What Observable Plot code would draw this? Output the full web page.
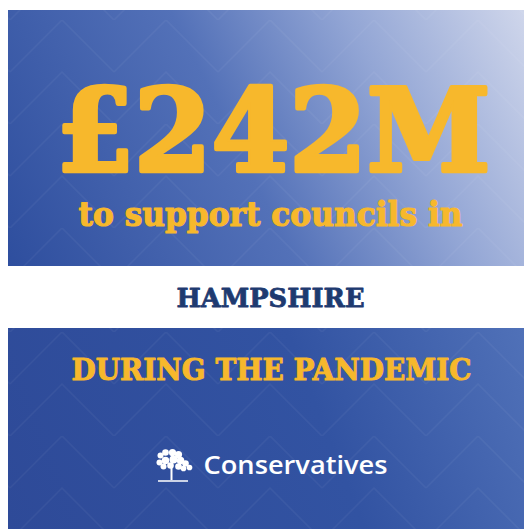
<!DOCTYPE html>
<html>
<head>
<meta charset="utf-8">
<script src="https://cdn.jsdelivr.net/npm/d3@7"></script>
<script src="https://cdn.jsdelivr.net/npm/@observablehq/plot@0.6"></script>
<style>
  html, body { margin: 0; padding: 0; background: #ffffff; }
  #chart svg { display: block; }
</style>
</head>
<body>
<div id="chart"></div>
<script>
// ---- content ----
const headline = ["£242M"];
const subline = ["to support councils in"];
const region = ["HAMPSHIRE"];
const period = ["DURING THE PANDEMIC"];
const party = ["Conservatives"];
// tree logo canopy blobs (relative offsets from canopy centre, px)
const treeBlobs = [
  {dx: -12, dy: -9, r: 4.5}, {dx: -7, dy: -12, r: 5.5}, {dx: 0, dy: -12, r: 6.5},
  {dx: 6, dy: -10, r: 6.5}, {dx: -13, dy: -2, r: 4.5}, {dx: -7, dy: -4, r: 7},
  {dx: 1, dy: -5, r: 8}, {dx: 8, dy: -4, r: 7}, {dx: 13, dy: -1, r: 5.5},
  {dx: 17, dy: 3, r: 4}, {dx: -9, dy: 2, r: 4.5}, {dx: -2, dy: 1, r: 5.5},
  {dx: 6, dy: 2, r: 5.5}, {dx: 11, dy: 4, r: 4}
];

const W = 524, H = 529;
const yellow = "#f7b82c";

const plot = Plot.plot({
  width: W, height: H,
  margin: 0,
  x: {domain: [0, W], range: [0, W], axis: null},
  y: {domain: [0, H], range: [0, H], axis: null},
  style: {background: "#ffffff", overflow: "visible"},
  marks: [
    Plot.rect([0], {x1: 8, x2: W, y1: 10, y2: 266, fill: "url(#gradTop)"}),
    Plot.rect([0], {x1: 8, x2: W, y1: 10, y2: 266, fill: "url(#scales)"}),
    Plot.rect([0], {x1: 8, x2: W, y1: 328, y2: H, fill: "url(#gradBot)"}),
    Plot.rect([0], {x1: 8, x2: W, y1: 328, y2: H, fill: "url(#scales)"}),
    Plot.text(headline, {x: 273, y: 170 - 0.32 * 114, text: d => d, fill: yellow,
      stroke: yellow, strokeWidth: 4.5, strokeLinejoin: "round",
      fontSize: 114, fontWeight: "bold", fontFamily: "DejaVu Serif", textAnchor: "middle", lineAnchor: "middle"}),
    Plot.text(subline, {x: 270, y: 225 - 0.32 * 33, text: d => d, fill: yellow,
      stroke: yellow, strokeWidth: 1.2, strokeLinejoin: "round",
      fontSize: 33, fontWeight: "bold", fontFamily: "DejaVu Serif", textAnchor: "middle", lineAnchor: "middle"}),
    Plot.text(region, {x: 270, y: 306 - 0.32 * 26, text: d => d, fill: "#1e3a70",
      stroke: "#1e3a70", strokeWidth: 0.8,
      fontSize: 26, fontWeight: "bold", fontFamily: "DejaVu Serif", textAnchor: "middle", lineAnchor: "middle"}),
    Plot.text(period, {x: 271, y: 379 - 0.32 * 29, text: d => d, fill: yellow,
      stroke: yellow, strokeWidth: 1,
      fontSize: 29, fontWeight: "bold", fontFamily: "DejaVu Serif", textAnchor: "middle", lineAnchor: "middle"}),
    Plot.text(party, {x: 295, y: 473 - 0.32 * 25, text: d => d, fill: "#ffffff",
      fontSize: 25, fontWeight: 600, fontFamily: "Open Sans", textAnchor: "middle", lineAnchor: "middle"}),
    Plot.dot(treeBlobs, {x: d => 172 + d.dx, y: d => 464 + d.dy, r: d => d.r, fill: "#ffffff", fillOpacity: 1, stroke: "none"}),
    Plot.ruleX([0], {x: 171, y1: 466, y2: 480, stroke: "#ffffff", strokeWidth: 2}),
    Plot.ruleY([0], {y: 480.5, x1: 158, x2: 188, stroke: "#ffffff", strokeWidth: 1.5})
  ]
});

// decorative defs: gradients and scale pattern
const svg = d3.select(plot);
const defs = svg.insert("defs", ":first-child");
const gt = defs.append("linearGradient").attr("id", "gradTop")
  .attr("gradientUnits", "userSpaceOnUse")
  .attr("x1", 8).attr("y1", 266).attr("x2", 524).attr("y2", 10);
gt.append("stop").attr("offset", "0%").attr("stop-color", "#2e4e9e");
gt.append("stop").attr("offset", "45%").attr("stop-color", "#5371b8");
gt.append("stop").attr("offset", "72%").attr("stop-color", "#93a6d5");
gt.append("stop").attr("offset", "100%").attr("stop-color", "#cfd6eb");
const gb = defs.append("linearGradient").attr("id", "gradBot")
  .attr("gradientUnits", "userSpaceOnUse")
  .attr("x1", 8).attr("y1", 529).attr("x2", 524).attr("y2", 328);
gb.append("stop").attr("offset", "0%").attr("stop-color", "#2e4a98");
gb.append("stop").attr("offset", "60%").attr("stop-color", "#3253a2");
gb.append("stop").attr("offset", "100%").attr("stop-color", "#5071b8");
const pat = defs.append("pattern").attr("id", "scales")
  .attr("patternUnits", "userSpaceOnUse")
  .attr("width", 104).attr("height", 104).attr("x", 10).attr("y", 20);
pat.append("path")
  .attr("d", "M0,52 L52,0 L104,52 M0,104 L52,52 L104,104")
  .attr("fill", "none").attr("stroke", "#ffffff").attr("stroke-opacity", 0.045).attr("stroke-width", 1.5);

// fit text widths to the reference
const widths = {"£242M": 434, "to support councils in": 384, "HAMPSHIRE": 188, "DURING THE PANDEMIC": 400, "Conservatives": 184};
svg.selectAll("text").each(function() {
  const t = this.textContent;
  if (widths[t]) d3.select(this).attr("textLength", widths[t]).attr("lengthAdjust", "spacingAndGlyphs");
});

document.getElementById("chart").appendChild(plot);
</script>
</body>
</html>
